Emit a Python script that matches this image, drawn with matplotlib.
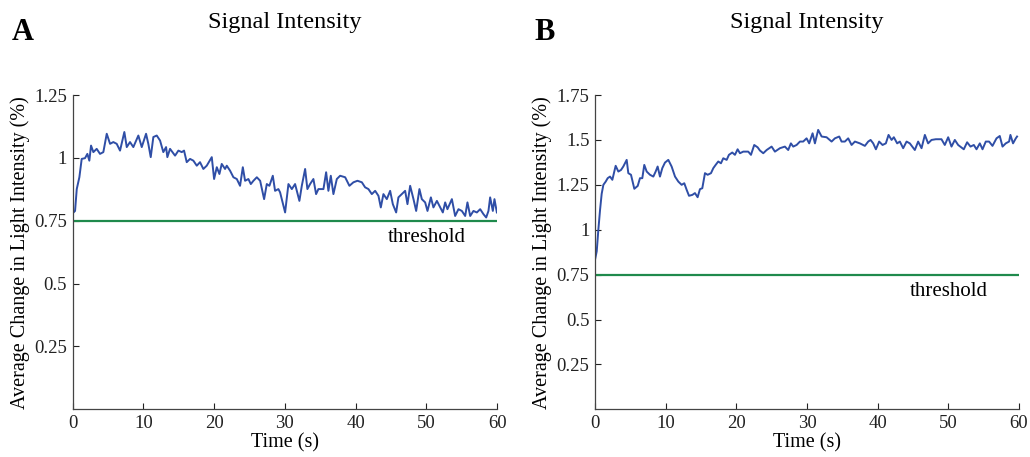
import matplotlib
matplotlib.use('Agg')
import matplotlib.pyplot as plt

plt.rcParams['font.family'] = ['Liberation Serif', 'DejaVu Serif']

# Panel A: signal (time in s, change in %)
time_a = [0.0, 0.33, 0.57, 0.94, 1.27, 1.74, 2.07, 2.35, 2.59, 2.92, 3.39, 3.86, 4.33, 4.81,
          5.28, 5.74, 6.22, 6.69, 7.30, 7.64, 8.10, 8.57, 9.28, 9.76, 10.37, 10.69, 11.03,
          11.4, 11.88, 12.35, 12.81, 13.2, 13.38, 13.76, 14.47, 14.94, 15.42, 15.74, 16.12,
          16.59, 17.06, 17.54, 18.0, 18.47, 18.95, 19.66, 19.99, 20.37, 20.74, 21.07, 21.54,
          21.78, 22.25, 22.72, 23.2, 23.66, 24.05, 24.37, 24.84, 25.18, 25.55, 26.03, 26.5,
          27.06, 27.44, 27.81, 28.29, 28.61, 29.08, 29.32, 30.03, 30.5, 30.98, 31.44, 32.05,
          32.39, 32.86, 33.18, 33.56, 34.03, 34.41, 34.74, 35.45, 35.83, 36.15, 36.49, 36.86,
          37.34, 37.81, 38.52, 39.12, 39.69, 40.26, 40.88, 41.34, 41.81, 42.29, 42.76, 43.23,
          43.56, 43.93, 44.41, 44.88, 45.26, 45.73, 46.05, 46.53, 47.0, 47.33, 47.71, 48.18,
          48.56, 49.02, 49.36, 49.83, 50.16, 50.64, 51.0, 51.49, 51.86, 52.33, 52.66, 52.98,
          53.61, 54.07, 54.54, 55.02, 55.49, 55.81, 56.2, 56.66, 57.14, 57.61, 58.08, 58.46,
          58.78, 59.02, 59.4, 59.63, 59.97]
signal_a = [0.78, 0.789, 0.876, 0.923, 0.996, 0.999, 1.016, 0.989, 1.049, 1.023, 1.036, 1.016,
            1.023, 1.096, 1.056, 1.063, 1.056, 1.029, 1.103, 1.043, 1.063, 1.043, 1.089, 1.043,
            1.096, 1.056, 1.003, 1.083, 1.089, 1.069, 1.023, 1.043, 1.003, 1.036, 1.009, 1.029,
            1.023, 1.029, 0.983, 0.996, 0.989, 0.969, 0.983, 0.956, 0.969, 1.003, 0.916, 0.963,
            0.936, 0.976, 0.956, 0.969, 0.949, 0.923, 0.916, 0.889, 0.963, 0.909, 0.916, 0.896,
            0.909, 0.923, 0.909, 0.836, 0.896, 0.889, 0.929, 0.869, 0.876, 0.863, 0.783, 0.896,
            0.876, 0.896, 0.829, 0.889, 0.956, 0.876, 0.896, 0.916, 0.856, 0.876, 0.876, 0.943,
            0.869, 0.929, 0.856, 0.916, 0.929, 0.923, 0.889, 0.903, 0.909, 0.903, 0.883, 0.876,
            0.856, 0.869, 0.849, 0.803, 0.856, 0.836, 0.869, 0.816, 0.783, 0.843, 0.856, 0.869,
            0.816, 0.889, 0.836, 0.789, 0.876, 0.836, 0.823, 0.789, 0.843, 0.803, 0.829, 0.809,
            0.783, 0.823, 0.796, 0.836, 0.769, 0.796, 0.789, 0.769, 0.823, 0.769, 0.789, 0.783,
            0.796, 0.776, 0.763, 0.789, 0.843, 0.789, 0.836, 0.783]

# Panel B
time_b = [0.0, 0.24, 0.47, 0.71, 0.94, 1.18, 1.51, 1.79, 2.12, 2.45, 2.92, 3.30, 3.68, 4.0,
          4.48, 4.71, 5.09, 5.56, 6.04, 6.36, 6.69, 6.97, 7.31, 7.78, 8.25, 8.58, 8.86, 9.19,
          9.52, 9.9, 10.37, 10.84, 11.32, 11.79, 12.26, 12.63, 12.97, 13.3, 13.77, 14.14,
          14.52, 14.85, 15.18, 15.56, 15.94, 16.41, 16.74, 17.07, 17.44, 17.82, 18.15, 18.63,
          18.95, 19.42, 19.8, 20.18, 20.51, 20.98, 21.68, 22.07, 22.53, 23.01, 23.34, 23.81,
          24.29, 24.99, 25.46, 26.17, 26.87, 27.34, 27.72, 28.05, 28.53, 29.0, 29.46, 29.94,
          30.31, 30.79, 31.12, 31.58, 32.07, 32.77, 33.48, 33.95, 34.56, 34.89, 35.36, 35.83,
          36.31, 36.78, 37.48, 38.19, 38.66, 39.0, 39.37, 39.75, 40.21, 40.69, 41.16, 41.54,
          41.97, 42.29, 42.76, 43.14, 43.61, 44.09, 44.55, 45.26, 45.73, 46.21, 46.68, 47.14,
          47.62, 48.23, 49.03, 49.5, 49.98, 50.45, 50.92, 51.39, 52.19, 52.66, 53.14, 53.61,
          53.99, 54.46, 54.84, 55.3, 55.77, 56.25, 56.82, 57.28, 57.67, 58.13, 58.6, 58.79,
          59.16, 59.55, 59.73]
signal_b = [0.833, 0.88, 1.0, 1.11, 1.20, 1.25, 1.268, 1.287, 1.296, 1.278, 1.356, 1.324, 1.333,
            1.352, 1.389, 1.315, 1.306, 1.228, 1.244, 1.287, 1.287, 1.361, 1.324, 1.306, 1.296,
            1.324, 1.352, 1.296, 1.343, 1.374, 1.389, 1.352, 1.296, 1.268, 1.25, 1.259, 1.222,
            1.189, 1.194, 1.204, 1.181, 1.226, 1.231, 1.315, 1.306, 1.315, 1.343, 1.361, 1.38,
            1.37, 1.398, 1.389, 1.417, 1.43, 1.417, 1.448, 1.426, 1.435, 1.435, 1.417, 1.472,
            1.459, 1.441, 1.426, 1.444, 1.463, 1.435, 1.454, 1.463, 1.444, 1.481, 1.463, 1.472,
            1.491, 1.491, 1.509, 1.481, 1.537, 1.481, 1.556, 1.519, 1.515, 1.491, 1.509, 1.519,
            1.491, 1.491, 1.509, 1.472, 1.491, 1.481, 1.467, 1.491, 1.5, 1.481, 1.448, 1.491,
            1.472, 1.481, 1.528, 1.5, 1.515, 1.481, 1.491, 1.454, 1.491, 1.481, 1.444, 1.491,
            1.454, 1.528, 1.481, 1.5, 1.504, 1.504, 1.472, 1.515, 1.463, 1.5, 1.472, 1.448,
            1.487, 1.463, 1.472, 1.448, 1.481, 1.448, 1.491, 1.491, 1.467, 1.509, 1.522, 1.463,
            1.481, 1.491, 1.528, 1.481, 1.509, 1.519]

threshold = 0.75
xticks = [0, 10, 20, 30, 40, 50, 60]
yticks_a = [0.25, 0.5, 0.75, 1, 1.25]
ylabels_a = ['0.25', '0.5', '0.75', '1', '1.25']
yticks_b = [0.25, 0.5, 0.75, 1, 1.25, 1.5, 1.75]
ylabels_b = ['0.25', '0.5', '0.75', '1', '1.25', '1.5', '1.75']

blue = '#2f4ea6'
green = '#1f8a4c'

fig = plt.figure(figsize=(10.3, 4.57), dpi=100)
ax_a = fig.add_axes([0.0706, 0.1044, 0.412, 0.6876])
ax_b = fig.add_axes([0.5777, 0.1044, 0.4116, 0.6876])

panels = [(ax_a, time_a, signal_a, 1.25, yticks_a, ylabels_a, 'A'),
          (ax_b, time_b, signal_b, 1.75, yticks_b, ylabels_b, 'B')]

for ax, t, s, ytop, yt, yl, letter in panels:
    ax.plot(t, s, color=blue, lw=1.4)
    ax.axhline(threshold, color=green, lw=1.6)
    ax.annotate('threshold', xy=(50, threshold), xytext=(0, -5), textcoords='offset points',
                ha='center', va='top', fontsize=15)
    ax.set_xlim(0, 60)
    ax.set_ylim(0, ytop)
    ax.set_xticks(xticks)
    ax.set_yticks(yt)
    ax.set_yticklabels(yl)
    ax.tick_params(direction='in', length=4, width=0.8, labelsize=13.5, pad=4, colors='#222222')
    for side in ['top', 'right']:
        ax.spines[side].set_visible(False)
    for side in ['left', 'bottom']:
        ax.spines[side].set_color('#444444')
        ax.spines[side].set_linewidth(0.9)
    ax.set_xlabel('Time (s)', fontsize=14.5, labelpad=1)
    ax.set_ylabel('Average Change in Light Intensity (%)', fontsize=14.5, labelpad=3)
    ax.text(0.5, 1.0 + 73 / 314, 'Signal Intensity', transform=ax.transAxes, fontsize=17.5,
            ha='center', va='center')
    ax.text(-0.143, 1.0 + 63 / 314, letter, transform=ax.transAxes, fontsize=22,
            fontweight='bold', ha='left', va='center')

fig.savefig('out.png', dpi=100)
